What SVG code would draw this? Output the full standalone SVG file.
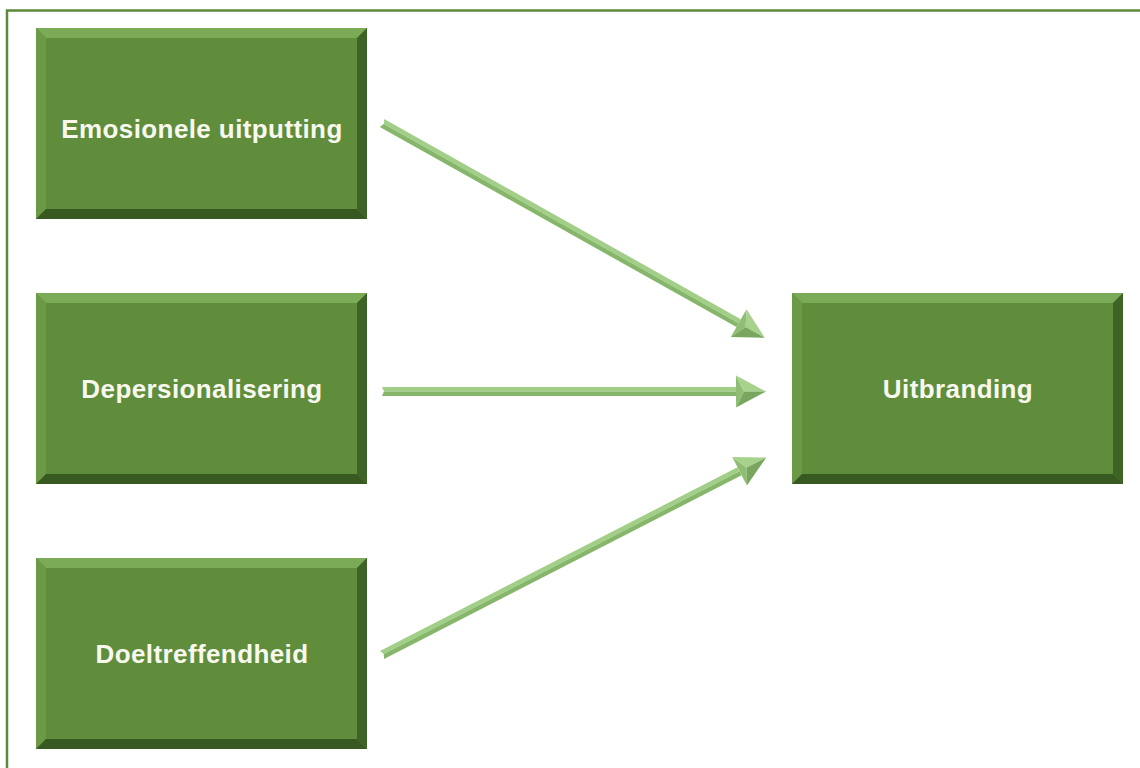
<svg xmlns="http://www.w3.org/2000/svg" xmlns:xlink="http://www.w3.org/1999/xlink" width="1140" height="768" viewBox="0 0 1140 768">
  <style>
    .frame { fill: none; stroke: #5b8b3a; stroke-width: 2.5; }
    .face { fill: #5f8d3c; }
    .bev-top { fill: #7cab57; }
    .bev-left { fill: #6b9a46; }
    .bev-right { fill: #3e6327; }
    .bev-bottom { fill: #385a22; }
    .label { font-family: "Liberation Sans", Arial, sans-serif; font-weight: bold; font-size: 26px; fill: #f8f8ee; text-anchor: middle; letter-spacing: 0.4px; }
    .shaft-hi { fill: #a2cf88; }
    .shaft-lo { fill: #86b66a; }
    .head-hi { fill: #a6d28c; }
    .head-lo { fill: #78a65e; }
    .head-back { fill: #8fbd74; }
  </style>
  <defs>
    <!-- bevelled 331 x 191 block -->
    <g id="bevelBox">
      <rect class="face" x="0" y="0" width="331" height="191"/>
      <polygon class="bev-top" points="0,0 331,0 321,10 10,10"/>
      <polygon class="bev-left" points="0,0 10,10 10,181 0,191"/>
      <polygon class="bev-right" points="331,0 331,191 321,181 321,10"/>
      <polygon class="bev-bottom" points="0,191 10,181 321,181 331,191"/>
    </g>
  </defs>

  <rect width="1140" height="768" fill="#ffffff"/>
  <path class="frame" d="M7,768 V10.5 H1140"/>

  <g id="connectors">
    <!-- Emosionele uitputting -> Uitbranding -->
    <g transform="translate(382,123) rotate(29.3)">
      <polygon class="shaft-hi" points="0,-4.5 409,-4.5 409,0 2,0"/>
      <polygon class="shaft-lo" points="0,4.5 409,4.5 409,0 2,0"/>
      <polygon class="head-back" points="409,-16 417,0 409,16"/>
      <polygon class="head-hi" points="409,-16 439,0 417,0"/>
      <polygon class="head-lo" points="409,16 439,0 417,0"/>
    </g>
    <!-- Depersionalisering -> Uitbranding -->
    <g transform="translate(382,391.5)">
      <polygon class="shaft-hi" points="0,-4.5 354,-4.5 354,0 2,0"/>
      <polygon class="shaft-lo" points="0,4.5 354,4.5 354,0 2,0"/>
      <polygon class="head-back" points="354,-16 362,0 354,16"/>
      <polygon class="head-hi" points="354,-16 384,0 362,0"/>
      <polygon class="head-lo" points="354,16 384,0 362,0"/>
    </g>
    <!-- Doeltreffendheid -> Uitbranding -->
    <g transform="translate(382,655) rotate(-27.2)">
      <polygon class="shaft-hi" points="0,-4.5 402,-4.5 402,0 2,0"/>
      <polygon class="shaft-lo" points="0,4.5 402,4.5 402,0 2,0"/>
      <polygon class="head-back" points="402,-16 410,0 402,16"/>
      <polygon class="head-hi" points="402,-16 432,0 410,0"/>
      <polygon class="head-lo" points="402,16 432,0 410,0"/>
    </g>
  </g>

  <g id="node-emosionele-uitputting">
    <use xlink:href="#bevelBox" x="36" y="28"/>
    <text class="label" x="202" y="138">Emosionele uitputting</text>
  </g>
  <g id="node-depersionalisering">
    <use xlink:href="#bevelBox" x="36" y="293"/>
    <text class="label" x="202" y="398">Depersionalisering</text>
  </g>
  <g id="node-doeltreffendheid">
    <use xlink:href="#bevelBox" x="36" y="558"/>
    <text class="label" x="202" y="663">Doeltreffendheid</text>
  </g>
  <g id="node-uitbranding">
    <use xlink:href="#bevelBox" x="792" y="293"/>
    <text class="label" x="958" y="398">Uitbranding</text>
  </g>
</svg>
